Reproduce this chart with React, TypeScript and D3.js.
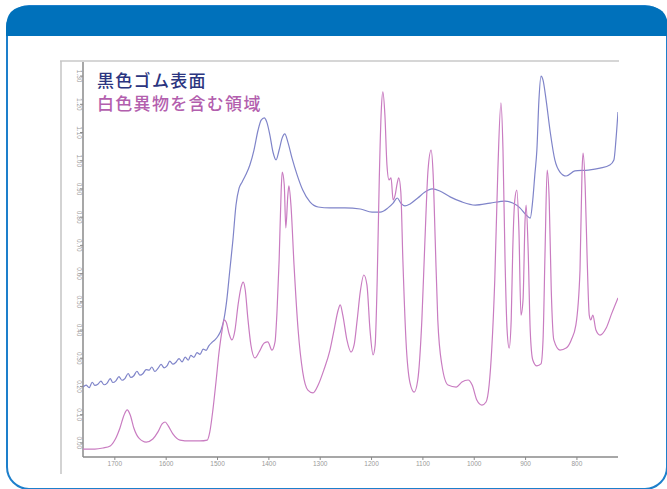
import React from "react";
import * as d3 from "d3";

const legendLabels = ["黒色ゴム表面", "白色異物を含む領域"];
const xTicks = [1700, 1600, 1500, 1400, 1300, 1200, 1100, 1000, 900, 800];
const yTicks = [0, 10, 20, 30, 40, 50, 60, 70, 80, 90, 100, 110, 120, 130];

const blueWn = [1762,1756,1750,1744,1739,1733,1727,1721,1715,1709,1704,1698,1692,1686,1680,1674,1669,1663,1657,1651,1645,1639,1633,1628,1622,1616,1610,1604,1598,1593,1587,1581,1575,1569,1563,1557,1552,1546,1540,1534,1528,1522,1517,1511,1505,1499,1493,1487,1482,1476,1470,1464,1458,1452,1445,1437,1429,1421,1415,1409,1404,1398,1392,1386,1380,1374,1369,1363,1355,1345,1334,1320,1304,1281,1252,1222,1199,1183,1168,1158,1150,1143,1135,1125,1110,1096,1082,1067,1047,1024,998,969,940,925,911,899,891,886,882,878,874,870,866,860,852,843,833,821,804,778,755,736,728,724,720];
const blueVal = [19.8,20.5,19.6,21.5,20.4,20.8,21.9,20.6,21.2,22.8,21.4,22.0,23.5,22.2,22.9,24.6,23.2,23.8,25.4,24.0,24.6,26.0,25.8,26.9,25.3,26.4,27.8,26.6,27.4,29.0,27.9,28.6,29.9,28.7,30.4,29.3,31.0,30.3,32.0,31.4,33.2,32.8,34.4,35.6,36.5,37.9,40.0,44.3,50.6,61.3,71.9,84.3,90.3,92.5,95.0,98.5,103.8,110.9,114.4,115.2,113.7,109.1,103.1,100.3,103.8,108.1,109.5,106.6,101.0,95.0,89.6,85.4,83.6,83.3,83.3,82.9,81.8,81.8,83.3,85.0,86.8,85.0,84.0,84.7,86.8,88.9,90.0,89.3,87.2,85.4,84.3,85.0,85.7,85.0,83.3,80.8,79.7,86.1,95.0,103.8,121.5,130.0,128.6,121.5,110.2,100.3,96.0,94.6,96.4,96.7,97.4,98.5,100.3,107.4,117.3];

const pinkWn = [1762,1739,1723,1709,1700,1690,1682,1676,1670,1663,1653,1639,1626,1616,1608,1602,1596,1587,1573,1554,1534,1520,1515,1509,1503,1497,1491,1487,1483,1478,1472,1466,1460,1454,1450,1446,1441,1435,1427,1419,1409,1402,1394,1388,1384,1380,1376,1374,1370,1367,1363,1361,1357,1351,1343,1334,1324,1314,1304,1293,1281,1273,1265,1261,1256,1248,1240,1234,1228,1222,1215,1209,1203,1197,1193,1189,1185,1181,1178,1174,1170,1166,1162,1158,1154,1150,1147,1143,1139,1133,1125,1117,1110,1102,1096,1090,1084,1080,1076,1071,1063,1051,1035,1024,1012,1004,995,985,977,971,966,960,954,948,944,940,936,932,928,925,921,917,913,909,905,901,899,895,891,886,878,870,866,862,858,854,850,845,833,821,811,802,794,790,788,784,780,776,773,769,763,755,743,732,720];
const pinkVal = [-2.2,-2.2,-1.8,-1.1,1.0,5.3,9.9,11.7,9.9,5.3,1.7,0.3,1.4,3.9,6.7,7.4,6.0,3.2,1.0,0.7,0.7,1.0,3.9,11.7,21.6,32.2,40.0,43.6,42.8,39.0,36.5,40.0,48.9,55.3,57.0,54.2,44.3,34.7,30.1,32.2,35.4,35.8,32.9,35.8,47.1,64.8,89.6,96.0,91.4,76.2,87.9,91.1,84.3,63.1,40.0,25.1,18.7,17.7,20.5,25.8,32.9,40.0,47.1,48.9,45.3,36.5,32.2,34.7,43.6,53.5,59.5,56.0,40.0,31.2,34.7,57.7,93.2,118.0,124.4,116.2,98.5,93.2,93.9,86.1,87.9,92.1,93.9,88.9,64.8,36.5,21.2,18.0,22.3,43.6,71.9,96.7,103.8,95.0,71.9,43.6,27.6,20.5,19.8,21.6,22.3,20.5,15.2,13.4,14.5,20.5,32.9,57.7,96.7,120.5,103.8,64.8,40.0,33.6,43.6,68.4,86.1,89.6,75.5,45.3,50.6,79.0,84.3,68.4,40.0,29.4,27.3,28.0,36.5,68.4,96.7,86.1,54.2,36.5,32.9,33.6,36.5,41.8,61.3,96.7,102.7,91.4,64.8,45.3,43.6,45.3,40.0,38.2,40.7,46.0,51.4];

const W = 667, H = 489;
const L = 83, R = 618, T = 62, B = 457;

export default function App() {
  const x = d3.scaleLinear().domain([1762, 720]).range([L, R]);
  const y = d3.scaleLinear().domain([-5, 135]).range([B, T]);
  const line = d3.line<[number, number]>().x(d => x(d[0])).y(d => y(d[1])).curve(d3.curveMonotoneX);
  const blue = line(blueWn.map((w, i) => [w, blueVal[i]]))!;
  const pink = line(pinkWn.map((w, i) => [w, pinkVal[i]]))!;
  const r = 22;
  const cardL = 6, cardR = 668, cardT = 6, cardB = 490;
  const headerB = 36;
  const headerPath = `M${cardL},${headerB} L${cardL},${cardT + r} Q${cardL},${cardT} ${cardL + r},${cardT} L${cardR - r},${cardT} Q${cardR},${cardT} ${cardR},${cardT + r} L${cardR},${headerB} Z`;
  return (
    <svg width={W} height={H} style={{ position: "absolute", left: 0, top: 0, background: "#fff" }} fontFamily="'Liberation Sans', Arial, sans-serif">
      <defs>
        <clipPath id="plot"><rect x={L} y={T - 2} width={R - L} height={B - T + 2} /></clipPath>
      </defs>
      <rect x={cardL + 1} y={cardT} width={cardR - cardL - 2} height={cardB - cardT - 1} rx={r} ry={r} fill="#fff" stroke="#1d7fcb" strokeWidth={2} />
      <path d={headerPath} fill="#0071bb" />
      <line x1={60} x2={R + 1} y1={61} y2={61} stroke="#c8c8c8" strokeWidth={1.5} />
      <line x1={61} x2={61} y1={61} y2={474} stroke="#c4c4c4" strokeWidth={1.5} />
      <line x1={L} x2={L} y1={T} y2={B} stroke="#8a8a8a" strokeWidth={1.5} />
      <line x1={L} x2={R} y1={B} y2={B} stroke="#8a8a8a" strokeWidth={1.5} />
      {xTicks.map(t => (
        <g key={t}>
          <line x1={x(t)} x2={x(t)} y1={B} y2={B + 3} stroke="#8a8a8a" strokeWidth={1} />
          <text x={x(t)} y={466} fontSize={6.5} fill="#9a9a9a" textAnchor="middle">{t}</text>
        </g>
      ))}
      {yTicks.map(t => (
        <g key={t}>
          <line x1={L - 3} x2={L} y1={y(t)} y2={y(t)} stroke="#8a8a8a" strokeWidth={1} />
          <text transform={`translate(77,${y(t)}) rotate(90)`} fontSize={6.5} fill="#9a9a9a" textAnchor="middle">{(t / 100).toFixed(2)}</text>
        </g>
      ))}
      <g clipPath="url(#plot)" fill="none" strokeWidth={1.2} strokeLinejoin="round">
        <path d={blue} stroke="#7f84c9" />
        <path d={pink} stroke="#c97cc1" />
      </g>
      <text x={97} y={87} fontSize={17} fontWeight={500} fill="#2b3580" letterSpacing={1.3} fontFamily="'Noto Sans CJK JP', sans-serif">{legendLabels[0]}</text>
      <text x={97} y={110} fontSize={17} fontWeight={500} fill="#b35fae" letterSpacing={1.3} fontFamily="'Noto Sans CJK JP', sans-serif">{legendLabels[1]}</text>
    </svg>
  );
}
